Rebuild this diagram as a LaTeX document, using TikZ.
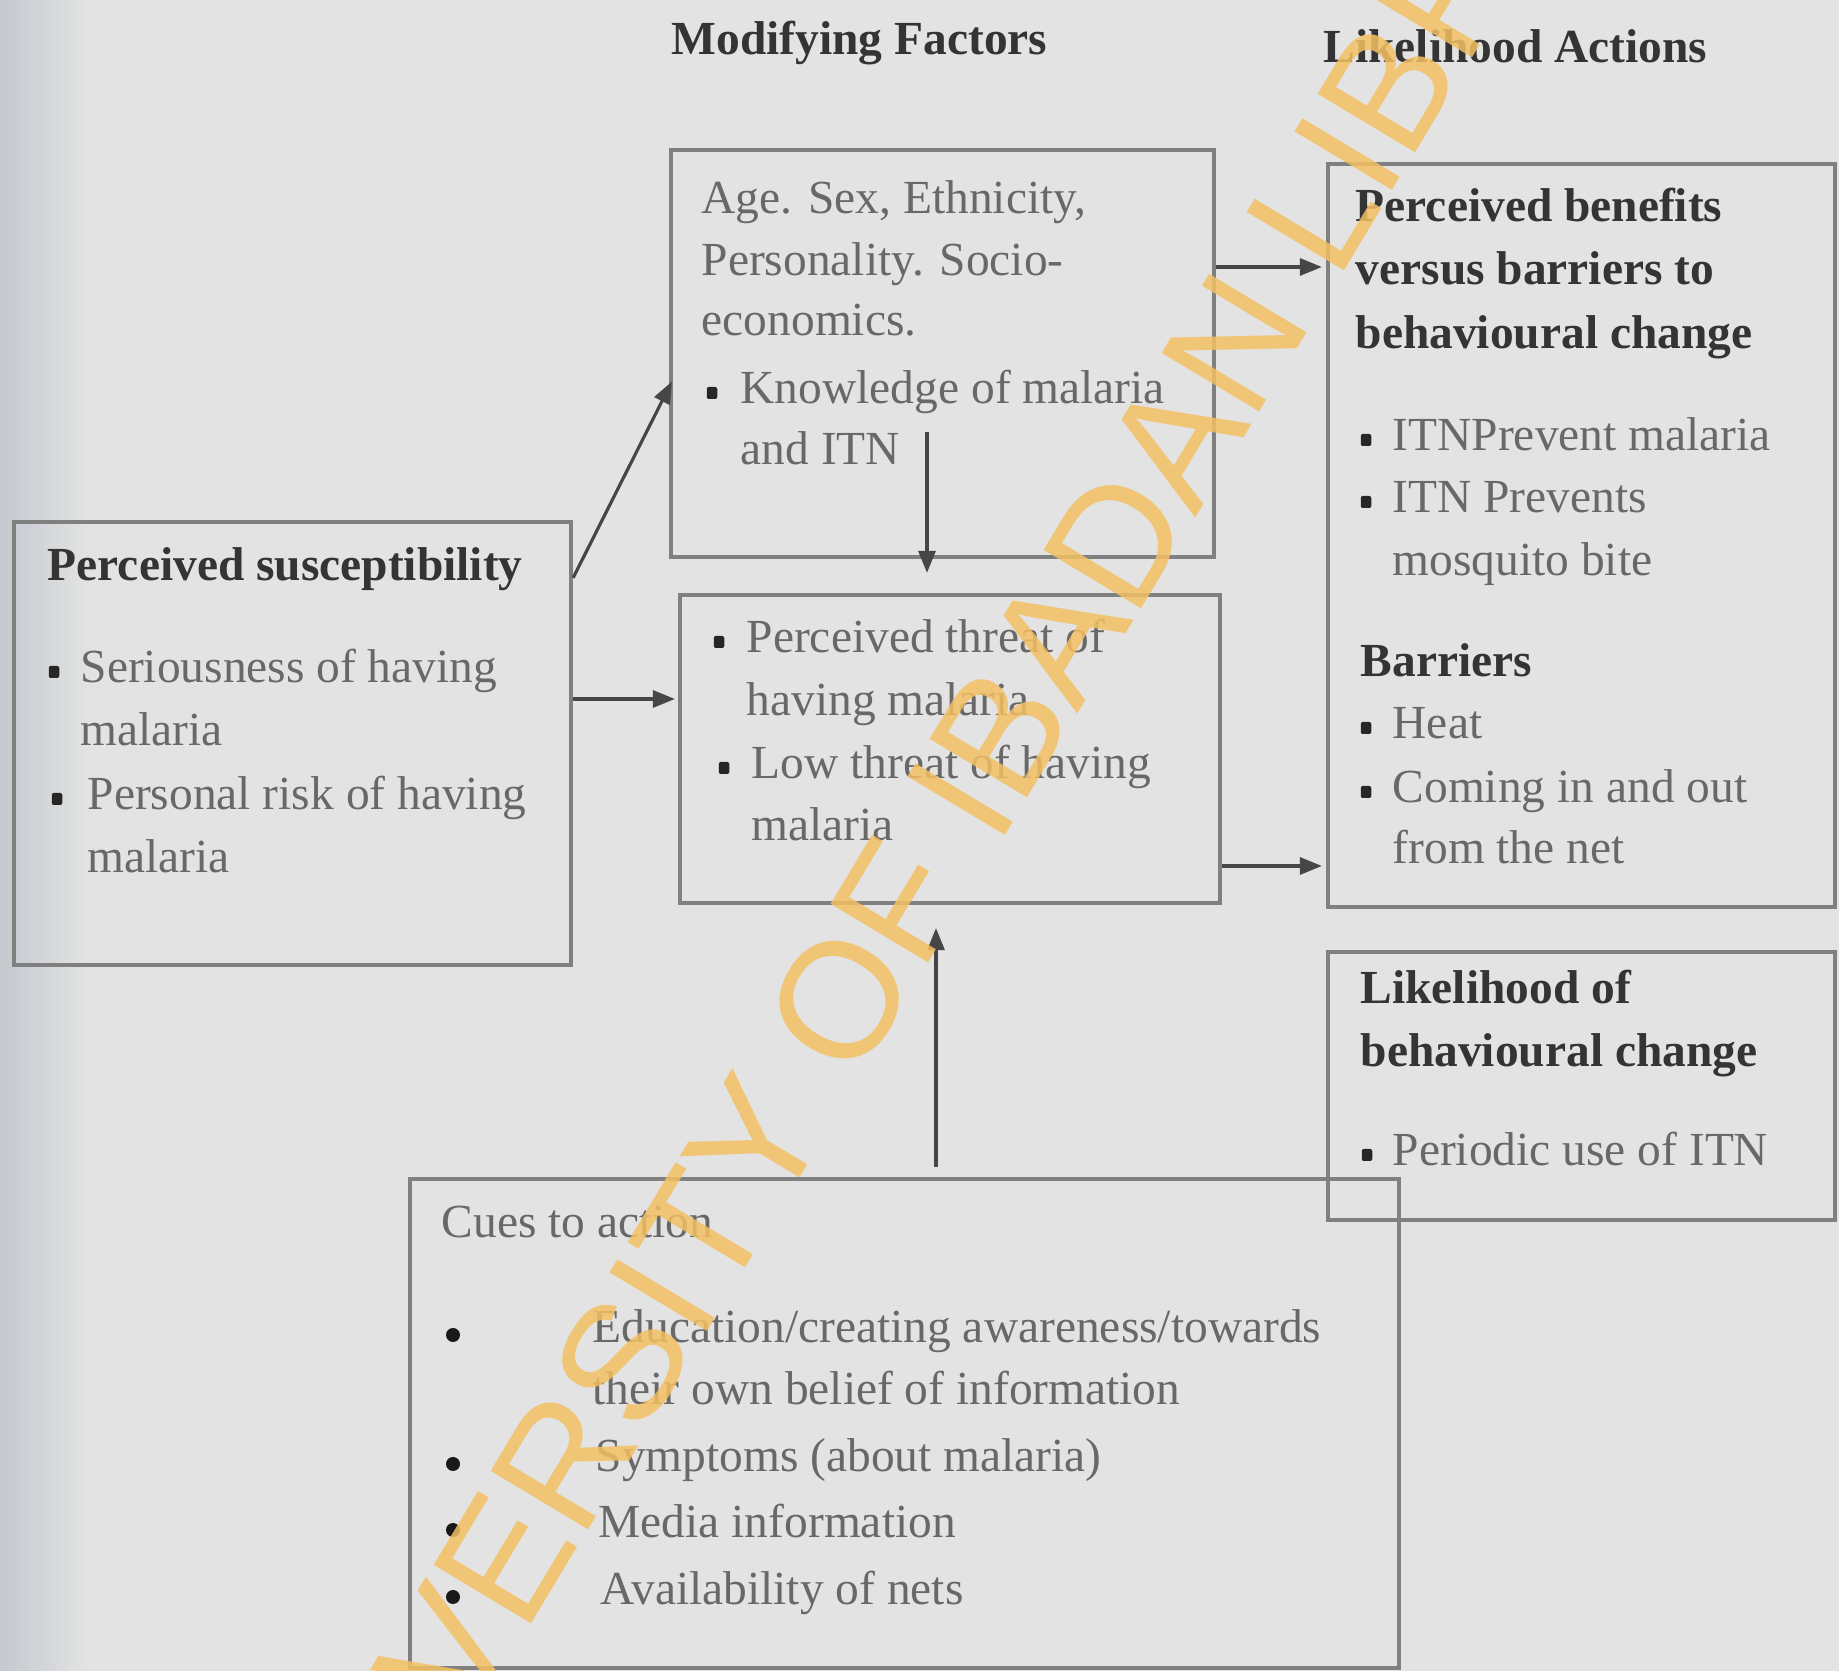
\documentclass[tikz,border=0pt]{standalone}
\usepackage{fontspec}
\setmainfont{Liberation Serif}
\newfontfamily\wmfont{Liberation Sans}
\usetikzlibrary{arrows.meta, calc, positioning}
\definecolor{scanbg}{RGB}{227,227,227}
\definecolor{scanedge}{RGB}{196,201,207}
\definecolor{boxgray}{RGB}{128,128,128}
\definecolor{linkgray}{RGB}{70,70,70}
\definecolor{inkdark}{RGB}{52,52,52}
\definecolor{inkgray}{RGB}{104,104,104}
\definecolor{wmyellow}{RGB}{243,192,98}
\tikzset{
    hbmbox/.style={draw=boxgray, line width=1.2pt, inner sep=0pt},
    hbmhead/.style={anchor=base west, inner sep=0pt, text=inkdark, font=\fontsize{13.5}{17.6}\selectfont\bfseries},
    hbmitem/.style={anchor=base west, inner sep=0pt, text=inkgray, font=\fontsize{13.5}{17.6}\selectfont},
    sqdot/.style={fill=black!85, inner sep=0pt, minimum width=1.05mm, minimum height=1.2mm, rounded corners=0.2mm},
    rdot/.style={circle, fill=black!90, inner sep=0pt, minimum size=1.4mm},
    hbmarrow/.style={draw=linkgray, line width=0.9pt, -{Triangle[length=2.2mm,width=1.7mm]}},
    wmtext/.style={inner sep=0pt, text=wmyellow, text opacity=0.85, font=\wmfont\fontsize{47}{47}\selectfont}
}
\begin{document}
\begin{tikzpicture}[x=0.1mm, y=-0.1mm]
    \useasboundingbox (0,0) rectangle (1839,1671);
    \fill[scanbg] (0,0) rectangle (1839,1671);
    \shade[left color=scanedge, right color=scanbg] (0,0) rectangle (90,1671);

    % column titles
    \node[hbmhead] (tmod) at (671,55) {Modifying Factors};
    \node[hbmhead] (tlik) at (1323,63) {Likelihood Actions};

    % boxes
    \node[hbmbox, minimum width=55.7mm, minimum height=44.3mm] (susc) at (292.5,743.5) {};
    \node[hbmbox, minimum width=54.3mm, minimum height=40.7mm] (mod) at (942.5,353.5) {};
    \node[hbmbox, minimum width=54mm, minimum height=30.8mm] (thr) at (950,749) {};
    \node[hbmbox, minimum width=50.7mm, minimum height=74.3mm] (ben) at (1581.5,535.5) {};
    \node[hbmbox, minimum width=50.7mm, minimum height=26.8mm] (lik) at (1581.5,1086) {};
    \node[hbmbox, minimum width=98.9mm, minimum height=48.9mm] (cues) at (904.5,1423.5) {};

    % modifying factors
    \foreach \y/\t [count=\i] in {214/{Age. Sex, Ethnicity,}, 276/{Personality. Socio-}, 336/{economics.}}
        \node[hbmitem] (mod-h\i) at (701,\y) {\t};
    \foreach \y/\t [count=\i] in {404/{Knowledge of malaria}, 465/{and ITN}}
        \node[hbmitem] (mod-t\i) at (740,\y) {\t};
    \node[sqdot] (mod-d1) at (712,393) {};

    % perceived susceptibility
    \node[hbmhead] (susc-h) at (47,581) {Perceived susceptibility};
    \foreach \x/\y/\t [count=\i] in {80/683/{Seriousness of having}, 80/746/malaria, 87/810/{Personal risk of having}, 87/873/malaria}
        \node[hbmitem] (susc-t\i) at (\x,\y) {\t};
    \foreach \x/\y [count=\i] in {54/672, 57/799}
        \node[sqdot] (susc-d\i) at (\x,\y) {};

    % threat
    \foreach \x/\y/\t [count=\i] in {746/653/{Perceived threat of}, 746/716/{having malaria}, 751/779/{Low threat of having}, 751/841/malaria}
        \node[hbmitem] (thr-t\i) at (\x,\y) {\t};
    \foreach \x/\y [count=\i] in {719/642, 724/768}
        \node[sqdot] (thr-d\i) at (\x,\y) {};

    % benefits and barriers
    \foreach \x/\y/\t [count=\i] in {1355/222/{Perceived benefits}, 1355/285/{versus barriers to}, 1355/349/{behavioural change}, 1360/677/Barriers}
        \node[hbmhead] (ben-h\i) at (\x,\y) {\t};
    \foreach \y/\t [count=\i] in {451/{ITNPrevent malaria}, 513/{ITN Prevents}, 576/{mosquito bite}, 739/Heat, 803/{Coming in and out}, 864/{from the net}}
        \node[hbmitem] (ben-t\i) at (1392,\y) {\t};
    \foreach \y [count=\i] in {440, 502, 728, 792}
        \node[sqdot] (ben-d\i) at (1366,\y) {};

    % likelihood
    \foreach \y/\t [count=\i] in {1004/{Likelihood of}, 1067/{behavioural change}}
        \node[hbmhead] (lik-h\i) at (1360,\y) {\t};
    \node[hbmitem] (lik-t1) at (1392,1166) {Periodic use of ITN};
    \node[sqdot] (lik-d1) at (1367,1155) {};

    % cues to action
    \node[hbmitem] (cues-h) at (441,1238) {Cues to action};
    \foreach \x/\y/\t [count=\i] in {592/1343/{Education/creating awareness/towards}, 592/1405/{their own belief of information}, 595/1472/{Symptoms (about malaria)}, 598/1538/{Media information}, 600/1605/{Availability of nets}}
        \node[hbmitem] (cues-t\i) at (\x,\y) {\t};
    \foreach \y [count=\i] in {1335, 1464, 1530, 1597}
        \node[rdot] (cues-d\i) at (453,\y) {};

    % connectors
    \coordinate (kn) at (927,432);
    \coordinate (cu) at (936,1167);
    \coordinate (a1) at ($(thr.west)+(-3,-50)$);
    \coordinate (a2) at ($(ben.west)+(-4,-268.5)$);
    \coordinate (a3) at ($(ben.west)+(-4,330.5)$);
    \draw[hbmarrow] ($(susc.north east)+(0,58)$) -- ($(mod.west)+(3,28)$);
    \draw[hbmarrow] (a1 -| susc.east) -- (a1);
    \draw[hbmarrow] (a2 -| mod.east) -- (a2);
    \draw[hbmarrow] (a3 -| thr.east) -- (a3);
    \draw[hbmarrow, shorten >=2mm] (kn) -- (kn |- thr.north);
    \draw[hbmarrow, shorten >=2.3mm] (cu) -- (cu |- thr.south);

    \node[wmtext, rotate=59] (wm) at (962,797) {UNIVERSITY OF IBADAN LIBRARY};
\end{tikzpicture}
\end{document}
